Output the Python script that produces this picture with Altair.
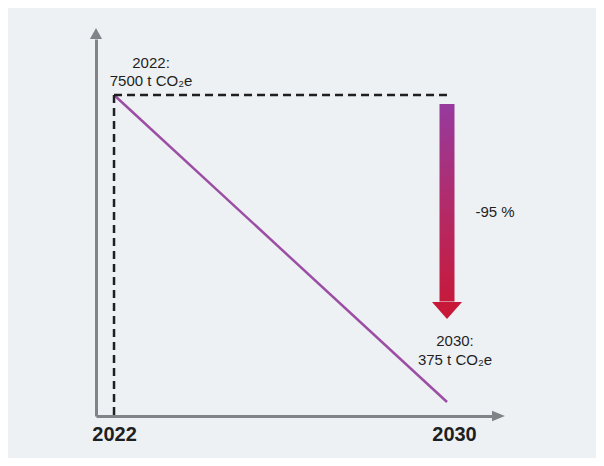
import altair as alt
import pandas as pd

# ---- data ----
YEARS = [2022, 2030]
EMISSIONS = [7500, 375]
UNIT = "t CO\u2082e"

# ---- layout ----
W, H = 396, 377
X_DOMAIN = [2021.567, 2031.081]
Y_DOMAIN = [50, 8800]
PPX = W / (X_DOMAIN[1] - X_DOMAIN[0])   # px per year
PPY = H / (Y_DOMAIN[1] - Y_DOMAIN[0])   # px per unit

BG = "#edf1f4"
AXIS_GRAY = "#808488"
PURPLE = "#9b4ea3"
DARK = "#1f1f1f"
FONT = "Liberation Sans"

reduction = round((EMISSIONS[1] - EMISSIONS[0]) / EMISSIONS[0] * 100)

xs = alt.Scale(domain=X_DOMAIN, nice=False, zero=False)
ys = alt.Scale(domain=Y_DOMAIN, nice=False, zero=False)
X_AXIS = alt.Axis(
    values=YEARS, format="d", title=None, grid=False, ticks=False, tickSize=0,
    labelFontSize=20, labelFontWeight="bold", labelColor=DARK, labelFont=FONT,
    labelPadding=8, domainColor=AXIS_GRAY, domainWidth=3,
    labelOffset={"condition": {"test": f"datum.value == {YEARS[1]}", "value": 7}, "value": 0})
Y_AXIS = alt.Axis(
    labels=False, title=None, grid=False, ticks=False, tickSize=0,
    domainColor=AXIS_GRAY, domainWidth=3)


def X(f):
    return alt.X(f, scale=xs, axis=X_AXIS, title=None)


def Y(f):
    return alt.Y(f, scale=ys, axis=Y_AXIS, title=None)


line_df = pd.DataFrame({"year": YEARS, "value": EMISSIONS})
line = alt.Chart(line_df).mark_line(color=PURPLE, strokeWidth=2.5).encode(
    x=X("year:Q"), y=Y("value:Q"))

# dashed guides
hdash_df = pd.DataFrame({"x": [YEARS[0]], "x2": [YEARS[1]], "y": [EMISSIONS[0]]})
hdash = alt.Chart(hdash_df).mark_rule(color=DARK, strokeWidth=2.5, strokeDash=[8, 5]).encode(
    x=X("x:Q"), x2="x2:Q", y=Y("y:Q"))
vdash_df = pd.DataFrame({"x": [YEARS[0]], "y": [EMISSIONS[0]], "y2": [Y_DOMAIN[0]]})
vdash = alt.Chart(vdash_df).mark_rule(color=DARK, strokeWidth=2.5, strokeDash=[8, 5]).encode(
    x=X("x:Q"), y=Y("y:Q"), y2="y2:Q")

# gradient arrow
ax = YEARS[1]
a_top = EMISSIONS[0] - 9 / PPY
a_base = EMISSIONS[0] - 207 / PPY
a_tip = EMISSIONS[0] - 224 / PPY
sw = 7.5 / PPX
shaft_df = pd.DataFrame({"x": [ax - sw], "x2": [ax + sw], "y": [a_top], "y2": [a_base + 0.5 / PPY]})
grad = alt.LinearGradient(
    gradient="linear",
    stops=[alt.GradientStop(offset=0, color="#963a9e"),
           alt.GradientStop(offset=0.55, color="#b42a66"),
           alt.GradientStop(offset=1, color="#c61a3c")],
    x1=0, x2=0, y1=0, y2=1,
)
shaft = alt.Chart(shaft_df).mark_rect(fill=grad).encode(
    x=X("x:Q"), x2="x2:Q", y=Y("y:Q"), y2="y2:Q")
head_df = pd.DataFrame({"x": [ax], "y": [a_base]})
head = alt.Chart(head_df).mark_point(
    shape="M-1,0L0,1.13L1,0Z", filled=True, size=900, color="#c8183a", opacity=1
).encode(x=X("x:Q"), y=Y("y:Q"))

# axis arrowheads
xhead_df = pd.DataFrame({"x": [X_DOMAIN[1]], "y": [Y_DOMAIN[0]]})
xhead = alt.Chart(xhead_df).mark_point(
    shape="M0,-0.8L2,0L0,0.8Z", filled=True, size=169, color=AXIS_GRAY, opacity=1
).encode(x=X("x:Q"), y=Y("y:Q"))
yhead_df = pd.DataFrame({"x": [X_DOMAIN[0]], "y": [Y_DOMAIN[1]]})
yhead = alt.Chart(yhead_df).mark_point(
    shape="M-1.1,0L0,-2L1.1,0Z", filled=True, size=121, color=AXIS_GRAY, opacity=1
).encode(x=X("x:Q"), y=Y("y:Q"))

# labels
start_df = pd.DataFrame({"year": [YEARS[0]], "value": [EMISSIONS[0]],
                         "label": [f"{YEARS[0]}:\n{EMISSIONS[0]} {UNIT}"]})
start_txt = alt.Chart(start_df).mark_text(
    font=FONT, fontSize=15, color=DARK, align="center", baseline="middle",
    lineBreak="\n", lineHeight=18, dx=37, dy=-32
).encode(x=X("year:Q"), y=Y("value:Q"), text="label:N")

end_df = pd.DataFrame({"year": [YEARS[1]], "value": [EMISSIONS[1]],
                       "label": [f"{YEARS[1]}:\n{EMISSIONS[1]} {UNIT}"]})
end_txt = alt.Chart(end_df).mark_text(
    font=FONT, fontSize=15, color=DARK, align="center", baseline="middle",
    lineBreak="\n", lineHeight=19, dx=8, dy=-61
).encode(x=X("year:Q"), y=Y("value:Q"), text="label:N")

pct_df = pd.DataFrame({"year": [YEARS[1]], "value": [(a_top + a_tip) / 2],
                       "label": [f"{reduction} %"]})
pct_txt = alt.Chart(pct_df).mark_text(
    font=FONT, fontSize=15, color=DARK, align="center", baseline="middle", dx=48
).encode(x=X("year:Q"), y=Y("value:Q"), text="label:N")

chart = alt.layer(
    line, vdash, hdash, shaft, head, xhead, yhead, start_txt, end_txt, pct_txt
).properties(
    width=W, height=H, background=BG,
    padding={"left": 88, "top": 31, "right": 104, "bottom": 42},
    autosize=alt.AutoSizeParams(type="none"),
).configure_view(strokeWidth=0)

chart.save("out.html", embed_options={"renderer": "svg", "actions": False})
